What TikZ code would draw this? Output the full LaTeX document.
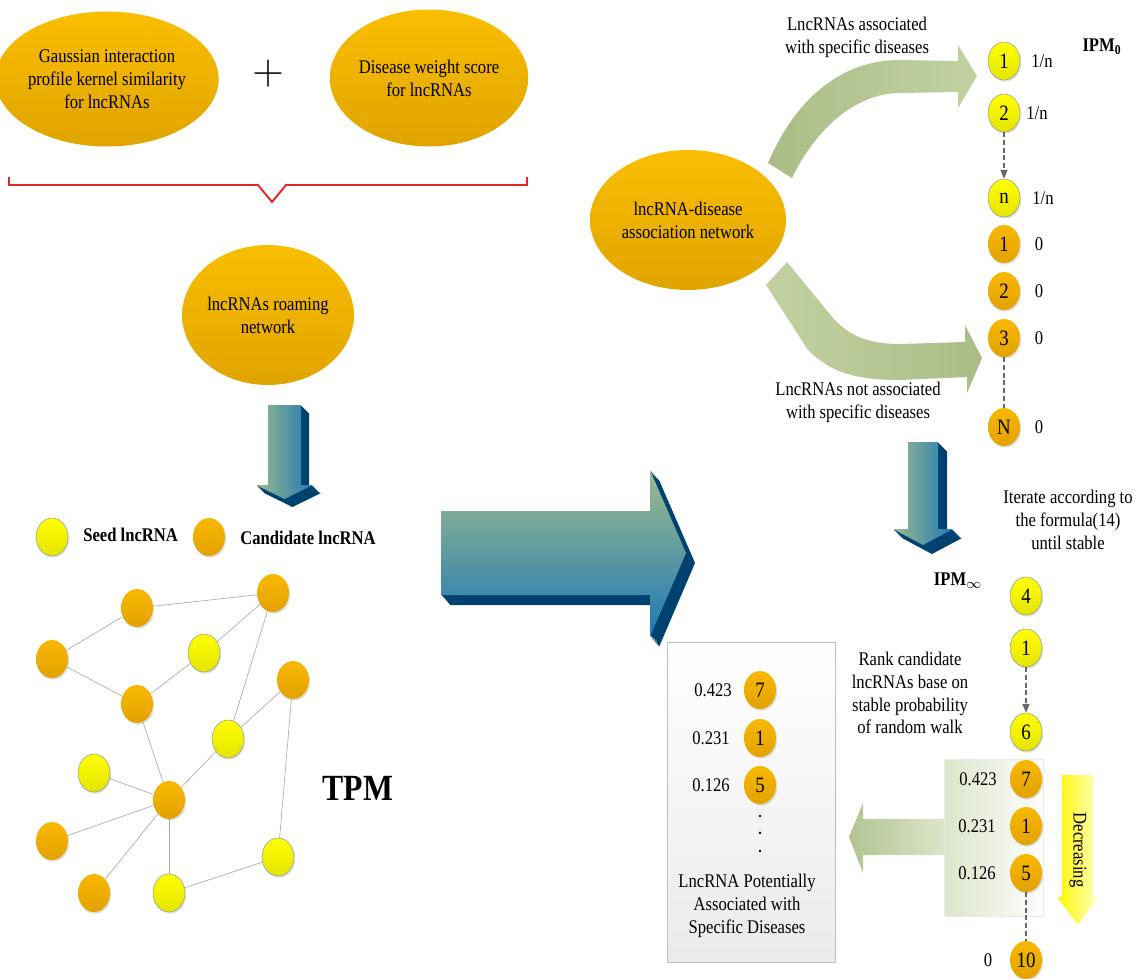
\documentclass[tikz,border=0pt]{standalone}
\usepackage{fontspec}
\setmainfont[FakeStretch=0.86]{Liberation Serif}
\usetikzlibrary{shapes.geometric,arrows.meta,shadows}

\definecolor{ellTop}{HTML}{FABE00}
\definecolor{ellBot}{HTML}{E0A400}
\definecolor{candTop}{HTML}{F8B800}
\definecolor{candBot}{HTML}{E3A200}
\definecolor{seedTop}{HTML}{FFFF00}
\definecolor{seedBot}{HTML}{E4E400}
\definecolor{seedEdge}{HTML}{8E9AB0}
\definecolor{navy}{HTML}{00426F}
\definecolor{arrGreen}{HTML}{9DBB8C}
\definecolor{arrBlue}{HTML}{1E78B6}
\definecolor{sage}{HTML}{AABD86}
\definecolor{sageLight}{HTML}{C3D1A2}
\definecolor{boxGreen}{HTML}{DCE5CA}
\definecolor{braceRed}{HTML}{E3262A}

\tikzset{
  bigell/.style={ellipse, top color=ellTop, bottom color=ellBot, align=center,
    inner sep=0pt, font=\fontsize{11}{13}\selectfont},
  seed/.style={ellipse, minimum width=0.64cm, minimum height=0.76cm, inner sep=0pt,
    top color=seedTop, bottom color=seedBot, draw=seedEdge, line width=0.3pt,
    drop shadow={shadow xshift=0.7pt, shadow yshift=-0.9pt, opacity=0.25},
    font=\fontsize{12.5}{14}\selectfont},
  cand/.style={seed, top color=candTop, bottom color=candBot, draw=none},
  lbl/.style={font=\fontsize{11}{13}\selectfont, align=center, inner sep=0pt},
  bold lbl/.style={lbl, font=\fontsize{11}{13}\selectfont\bfseries},
  tpmlink/.style={draw=black!35, line width=0.35pt},
  dashlink/.style={draw=black!60, line width=0.6pt, dash pattern=on 2.8pt off 1.6pt},
}

\begin{document}
\begin{tikzpicture}[x=0.02cm, y=-0.02cm]
\useasboundingbox (0,0) rectangle (1141,978);

% --- top left: two similarity sources
\node[bigell, minimum width=3.92cm, minimum height=2.7cm] (gip) at (107,79)
  {Gaussian interaction\\profile kernel similarity\\for lncRNAs};
\node[inner sep=0pt] (plus) at (268,74) {\fontsize{30}{30}\selectfont$+$};
\node[bigell, minimum width=3.86cm, minimum height=2.74cm] (dws) at (429,78)
  {Disease weight score\\for lncRNAs};
\draw[braceRed, line width=1.1pt] (9,177) -- (9,185) -- (258,185) -- (272,202)
  -- (286,185) -- (527,185) -- (527,177);

\node[bigell, minimum width=3.26cm, minimum height=2.8cm] (roam) at (268,315)
  {lncRNAs roaming\\network};

% 3D arrow down to the TPM
\foreach \k in {1,...,8}
  \fill[navy, shift={(\k,\k)}] (268,405) -- (301,405) -- (301,485) -- (313,485)
    -- (284.5,499) -- (256,485) -- (268,485) -- cycle;
\shade[left color=arrGreen, right color=arrBlue] (268,405) -- (301,405) -- (301,485)
  -- (313,485) -- (284.5,499) -- (256,485) -- (268,485) -- cycle;

% legend
\node[seed] (legseed) at (52,537) {};
\node[bold lbl, anchor=west] (legseedtxt) at (83,535) {Seed lncRNA};
\node[cand] (legcand) at (209,537) {};
\node[bold lbl, anchor=west] (legcandtxt) at (240,538) {Candidate lncRNA};

% TPM network
\node[cand] (n1) at (137,608) {};
\node[cand] (n2) at (273,593) {};
\node[cand] (n3) at (52,659) {};
\node[seed] (n4) at (204,653) {};
\node[cand] (n5) at (137,704) {};
\node[cand] (n6) at (293,680) {};
\node[seed] (n7) at (228,739) {};
\node[seed] (n8) at (94,773) {};
\node[cand] (n9) at (169,800) {};
\node[cand] (n10) at (52,841) {};
\node[cand] (n11) at (94,893) {};
\node[seed] (n12) at (169,893) {};
\node[seed] (n13) at (278,857) {};
\foreach \a/\b in {n1/n2, n1/n3, n3/n5, n5/n4, n4/n2, n2/n7, n7/n6, n6/n13,
                   n7/n9, n5/n9, n8/n9, n10/n9, n11/n9, n9/n12, n12/n13}
  \draw[tpmlink] (\a) -- (\b);
\node[inner sep=0pt, font=\fontsize{21}{24}\selectfont\bfseries] (tpm) at (358,788) {TPM};

% big 3D arrow to the right
\foreach \k in {1,...,10}
  \fill[navy, shift={(\k*0.9,\k)}] (441,511) -- (650,511) -- (650,470) -- (686,553)
    -- (650,637) -- (650,595) -- (441,595) -- cycle;
\shade[top color=arrGreen, bottom color=arrBlue] (441,511) -- (650,511) -- (650,470)
  -- (686,553) -- (650,637) -- (650,595) -- (441,595) -- cycle;

% --- right: initial probability vector
\node[bigell, minimum width=3.92cm, minimum height=2.8cm] (ldnet) at (688,220)
  {lncRNA-disease\\association network};
\shade[left color=sage, right color=sageLight] (768,163) .. controls (795,100) and (840,60)
  .. (900,60) -- (958,61) -- (958,45) -- (977,76) -- (958,108) -- (958,92) -- (900,93)
  .. controls (855,93) and (815,130) .. (792,178) -- cycle;
\shade[left color=sageLight, right color=sage] (787,262) -- (833,318) .. controls (850,337)
  and (870,344) .. (900,344) -- (965,342) -- (965,325) -- (982,358) -- (967,393)
  -- (967,377) -- (900,380) .. controls (855,380) and (830,372) .. (808,350)
  -- (766,285) -- cycle;
\node[lbl] (assoc) at (857,37) {LncRNAs associated\\with specific diseases};
\node[lbl] (notassoc) at (858,402) {LncRNAs not associated\\with specific diseases};

\node[bold lbl] (ipm0) at (1102,47) {IPM\textsubscript{0}};
\node[seed] (s1) at (1004,61) {1};
\node[seed] (s2) at (1004,113) {2};
\node[seed] (sn) at (1004,198) {n};
\node[cand] (c1) at (1004,244) {1};
\node[cand] (c2) at (1004,291) {2};
\node[cand] (c3) at (1004,338) {3};
\node[cand] (cN) at (1004,427) {N};
\node[lbl] (vs1) at (1042,61) {1/n};
\node[lbl] (vs2) at (1037,113) {1/n};
\node[lbl] (vsn) at (1043,198) {1/n};
\foreach \c in {c1,c2,c3,cN}
  \node[lbl, anchor=center] (v\c) at ([xshift=0.7cm]\c.center) {0};
\draw[dashlink, -{Triangle[length=5pt, width=4pt]}] (s2) -- (sn);
\draw[dashlink] (c3) -- (cN);

% 3D arrow down: iterate
\foreach \k in {1,...,9}
  \fill[navy, shift={(\k,\k)}] (908,442) -- (938,442) -- (938,529) -- (953,529)
    -- (923,545) -- (893,529) -- (908,529) -- cycle;
\shade[left color=arrGreen, right color=arrBlue] (908,442) -- (938,442) -- (938,529)
  -- (953,529) -- (923,545) -- (893,529) -- (908,529) -- cycle;
\node[lbl] (iter) at (1068,520) {Iterate according to\\the formula(14)\\until stable};

% --- stable probability vector
\node[bold lbl] (ipminf) at (958,581) {IPM\textsubscript{$\infty$}};
\shade[left color=boxGreen, right color=white!96!boxGreen, draw=black!8]
  (944,759) rectangle (1043,916);
\shade[left color=sage!90!white, right color=boxGreen] (944,819) -- (863,819) -- (863,803)
  -- (849,837) -- (863,873) -- (863,855) -- (944,855) -- cycle;
\node[seed] (r4) at (1026,596) {4};
\node[seed] (r1) at (1026,648) {1};
\node[seed] (r6) at (1026,732) {6};
\node[cand] (r7) at (1026,779) {7};
\node[cand] (r1b) at (1026,826) {1};
\node[cand] (r5) at (1026,873) {5};
\node[cand] (r10) at (1026,960) {10};
\node[lbl] (vr7) at (978,779) {0.423};
\node[lbl] (vr1b) at (977,826) {0.231};
\node[lbl] (vr5) at (977,873) {0.126};
\node[lbl] (vr10) at (988,960) {0};
\draw[dashlink, -{Triangle[length=5pt, width=4pt]}] (r1) -- (r6);
\draw[dashlink] (r5) -- (r10);
\node[lbl] (rank) at (910,693) {Rank candidate\\lncRNAs base on\\stable probability\\of random walk};

% decreasing arrow
\shade[left color=yellow!90!orange!60!yellow, right color=yellow!25] (1062,775) -- (1093,775)
  -- (1093,897) -- (1098,897) -- (1078,925) -- (1057,897) -- (1062,897) -- cycle;
\node[lbl, rotate=-90] (decr) at (1078,850) {Decreasing};

% --- result box
\shade[top color=white, bottom color=black!8, draw=black!25, line width=0.5pt]
  (667,642) rectangle (835,962);
\node[cand] (b7) at (760,690) {7};
\node[cand] (b1) at (760,738) {1};
\node[cand] (b5) at (760,785) {5};
\node[lbl] (vb7) at (713,690) {0.423};
\node[lbl] (vb1) at (711,738) {0.231};
\node[lbl] (vb5) at (711,785) {0.126};
\foreach \y in {816,833,851}
  \fill (760,\y) circle (1.4);
\node[lbl] (result) at (747,906) {LncRNA Potentially\\Associated with\\Specific Diseases};
\end{tikzpicture}
\end{document}
